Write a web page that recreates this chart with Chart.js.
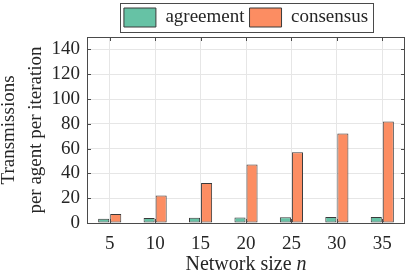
<!DOCTYPE html>
<html>
<head>
<meta charset="utf-8">
<script src="https://cdn.jsdelivr.net/npm/chart.js@4"></script>
<style>
  html, body { margin: 0; padding: 0; background: #ffffff; }
  #wrap { width: 407px; height: 273px; }
</style>
</head>
<body>
<div id="wrap"><canvas id="c" width="407" height="273"></canvas></div>
<script>
// ---- data ----
const categories = ['5', '10', '15', '20', '25', '30', '35'];
const agreement = [3.5, 4.0, 4.2, 4.5, 4.7, 4.8, 4.9];
const consensus = [7.3, 22.1, 32.3, 47.1, 57.0, 72.2, 81.9];
const yTicks = [0, 20, 40, 60, 80, 100, 120, 140];
const yMax = 150;
const seriesNames = ['agreement', 'consensus'];
const yTitle = ['Transmissions', 'per agent per iteration'];
const xTitle = 'Network size';
const xTitleVar = 'n';

const FONT = "'Liberation Serif', 'Times New Roman', serif";
const AXIS_COLOR = '#4a4a4a';

const boxPlugin = {
  id: 'matlabBox',
  afterDatasetsDraw(chart) {
    const {ctx, chartArea: a, scales} = chart;
    ctx.save();
    ctx.strokeStyle = AXIS_COLOR;
    ctx.lineWidth = 1;
    const tl = 4;
    ctx.beginPath();
    yTicks.forEach(v => {
      const y = Math.round(scales.y.getPixelForValue(v)) + 0.5;
      ctx.moveTo(a.left, y); ctx.lineTo(a.left + tl, y);
      ctx.moveTo(a.right, y); ctx.lineTo(a.right - tl, y);
    });
    categories.forEach((c, i) => {
      const x = Math.round(scales.x.getPixelForValue(i)) + 0.5;
      ctx.moveTo(x, a.bottom); ctx.lineTo(x, a.bottom - tl);
      ctx.moveTo(x, a.top); ctx.lineTo(x, a.top + tl);
    });
    ctx.stroke();
    ctx.strokeRect(Math.round(a.left) + 0.5, Math.round(a.top) + 0.5,
                   Math.round(a.right - a.left) - 1, Math.round(a.bottom - a.top));
    ctx.restore();
  },
  afterDraw(chart) {
    const {ctx, chartArea: a} = chart;
    const lg = chart.legend;
    if (lg && lg.legendHitBoxes && lg.legendHitBoxes.length) {
      const hb = lg.legendHitBoxes;
      const first = hb[0], last = hb[hb.length - 1];
      const left = first.left - 4;
      const right = last.left + last.width + 5;
      const top = first.top - 5;
      const bottom = first.top + first.height + 5;
      ctx.save();
      ctx.strokeStyle = AXIS_COLOR;
      ctx.lineWidth = 1;
      ctx.strokeRect(Math.round(left) + 0.5, Math.max(0.5, Math.round(top) + 0.5),
                     Math.round(right - left), Math.round(bottom - Math.max(0, top)));
      ctx.restore();
    }
    ctx.save();
    ctx.fillStyle = '#262626';
    ctx.textBaseline = 'alphabetic';
    const fNorm = '20px ' + FONT;
    const fIt = 'italic 20px ' + FONT;
    ctx.font = fNorm;
    const w1 = ctx.measureText(xTitle + ' ').width;
    ctx.font = fIt;
    const w2 = ctx.measureText(xTitleVar).width;
    const cx = (a.left + a.right) / 2;
    const x0 = cx - (w1 + w2) / 2;
    ctx.font = fNorm;
    ctx.textAlign = 'left';
    ctx.fillText(xTitle + ' ', x0, 270);
    ctx.font = fIt;
    ctx.fillText(xTitleVar, x0 + w1, 270);
    ctx.restore();
  }
};

new Chart(document.getElementById('c'), {
  type: 'bar',
  data: {
    labels: categories,
    datasets: [
      {
        label: seriesNames[0],
        data: agreement,
        backgroundColor: '#66c2a5',
        borderColor: '#3a3a3a',
        borderWidth: 1,
        borderSkipped: false,
        categoryPercentage: 0.53,
        barPercentage: 0.92
      },
      {
        label: seriesNames[1],
        data: consensus,
        backgroundColor: '#fc8d62',
        borderColor: '#3a3a3a',
        borderWidth: 1,
        borderSkipped: false,
        categoryPercentage: 0.53,
        barPercentage: 0.92
      }
    ]
  },
  options: {
    responsive: false,
    animation: false,
    devicePixelRatio: 1,
    layout: { padding: { left: 0, right: 2, top: 3, bottom: 0 } },
    plugins: {
      legend: {
        display: true,
        position: 'top',
        fullSize: false,
        align: 'center',
        labels: {
          font: { family: FONT, size: 19 },
          color: '#262626',
          boxWidth: 32,
          boxHeight: 19,
          padding: 5,
          generateLabels(chart) {
            return chart.data.datasets.map((ds, i) => ({
              text: ds.label,
              fillStyle: ds.backgroundColor,
              strokeStyle: '#3a3a3a',
              lineWidth: 1,
              hidden: false,
              datasetIndex: i,
              fontColor: '#262626'
            }));
          }
        }
      },
      tooltip: { enabled: false },
      title: { display: false }
    },
    scales: {
      x: {
        type: 'category',
        offset: true,
        grid: { display: true, offset: false, color: '#e6e6e6', drawTicks: false },
        border: { display: false },
        ticks: {
          font: { family: FONT, size: 19 },
          color: '#262626',
          padding: 10,
          maxRotation: 0,
          autoSkip: false
        },
        afterFit(scale) { scale.height = 50; }
      },
      y: {
        type: 'linear',
        min: 0,
        max: yMax,
        grid: { display: true, color: '#e6e6e6', drawTicks: false },
        border: { display: false },
        afterBuildTicks(scale) { scale.ticks = yTicks.map(v => ({ value: v })); },
        ticks: {
          font: { family: FONT, size: 19 },
          color: '#262626',
          padding: 7
        },
        title: {
          display: true,
          text: yTitle,
          font: { family: FONT, size: 19, lineHeight: 1.4 },
          color: '#262626',
          padding: { top: -4, bottom: 0 }
        },
        afterFit(scale) { scale.width = 87; }
      }
    }
  },
  plugins: [boxPlugin]
});
</script>
</body>
</html>
